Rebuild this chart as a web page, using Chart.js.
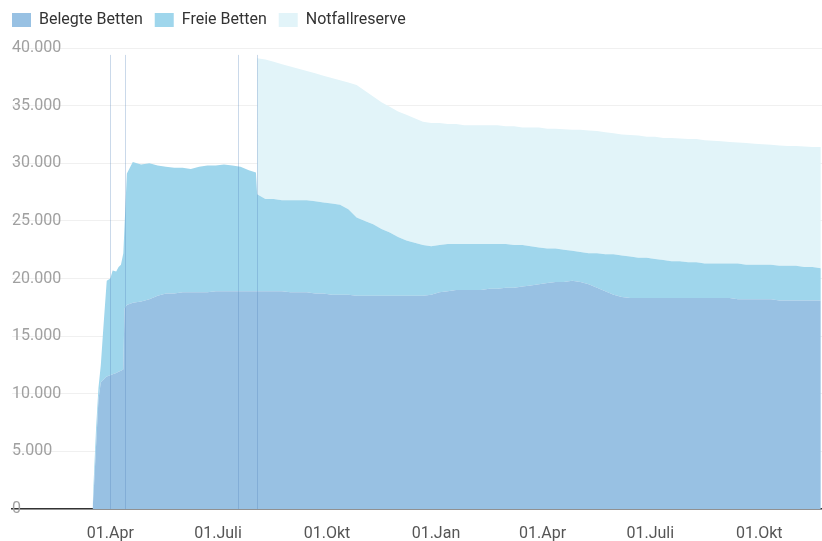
<!DOCTYPE html>
<html>
<head>
<meta charset="utf-8">
<script src="https://cdn.jsdelivr.net/npm/chart.js@4.4.0/dist/chart.umd.min.js"></script>
<style>
  body { margin: 0; background: #fff; }
</style>
</head>
<body>
<canvas id="grafico" width="822" height="541"></canvas>
<script>
// Datum je Messpunkt (ungefähr wöchentlich, dichter an den Sprüngen)
const datum = [
  '2020-03-17', '2020-03-18', '2020-03-20', '2020-03-22', '2020-03-24', '2020-03-26', '2020-03-29',
  '2020-04-01', '2020-04-03', '2020-04-06', '2020-04-08', '2020-04-10', '2020-04-12', '2020-04-13',
  '2020-04-15', '2020-04-20', '2020-04-27', '2020-05-04', '2020-05-11', '2020-05-18', '2020-05-25',
  '2020-06-01', '2020-06-08', '2020-06-15', '2020-06-22', '2020-06-29', '2020-07-06', '2020-07-13',
  '2020-07-20', '2020-07-27', '2020-08-02', '2020-08-03', '2020-08-10', '2020-08-17', '2020-08-24',
  '2020-08-31', '2020-09-07', '2020-09-14', '2020-09-21', '2020-09-28', '2020-10-05', '2020-10-12',
  '2020-10-19', '2020-10-26', '2020-11-02', '2020-11-09', '2020-11-16', '2020-11-23', '2020-11-30',
  '2020-12-07', '2020-12-14', '2020-12-21', '2020-12-28', '2021-01-04', '2021-01-11', '2021-01-18',
  '2021-01-25', '2021-02-01', '2021-02-08', '2021-02-15', '2021-02-22', '2021-03-01', '2021-03-08',
  '2021-03-15', '2021-03-22', '2021-03-29', '2021-04-05', '2021-04-12', '2021-04-19', '2021-04-26',
  '2021-05-03', '2021-05-10', '2021-05-17', '2021-05-24', '2021-05-31', '2021-06-07', '2021-06-14',
  '2021-06-21', '2021-06-28', '2021-07-05', '2021-07-12', '2021-07-19', '2021-07-26', '2021-08-02',
  '2021-08-09', '2021-08-16', '2021-08-23', '2021-08-30', '2021-09-06', '2021-09-13', '2021-09-20',
  '2021-09-27', '2021-10-04', '2021-10-11', '2021-10-18', '2021-10-25', '2021-11-01', '2021-11-08',
  '2021-11-15', '2021-11-22'
];

const belegteBetten = [
  0, 1500, 5500, 9500, 11000, 11200, 11500,
  11600, 11700, 11800, 11900, 12000, 12100, 17400,
  17700, 17900, 18000, 18200, 18500, 18700, 18700,
  18800, 18800, 18800, 18800, 18900, 18900, 18900,
  18900, 18900, 18900, 18900, 18900, 18900, 18900,
  18800, 18800, 18800, 18700, 18700, 18600, 18600,
  18600, 18500, 18500, 18500, 18500, 18500, 18500,
  18500, 18500, 18500, 18600, 18800, 18900, 19000,
  19000, 19000, 19000, 19100, 19100, 19200, 19200,
  19300, 19400, 19500, 19600, 19700, 19700, 19800,
  19700, 19500, 19200, 18900, 18600, 18400, 18300,
  18300, 18300, 18300, 18300, 18300, 18300, 18300,
  18300, 18300, 18300, 18300, 18300, 18200, 18200,
  18200, 18200, 18200, 18100, 18100, 18100, 18100,
  18100, 18100
];

const freieBetten = [
  0, 1000, 1500, 1000, 1500, 4300, 8300,
  8400, 9000, 8800, 9100, 9200, 10100, 7100,
  11400, 12200, 11900, 11800, 11300, 11000, 10900,
  10800, 10700, 10900, 11000, 10900, 11000, 10900,
  10800, 10500, 10300, 8400, 8000, 8000, 7900,
  8000, 8000, 8000, 8000, 7900, 7900, 7800,
  7400, 6800, 6500, 6200, 5800, 5500, 5100,
  4800, 4600, 4400, 4200, 4100, 4100, 4000,
  4000, 4000, 4000, 3900, 3900, 3800, 3700,
  3600, 3400, 3200, 3000, 2900, 2800, 2600,
  2600, 2700, 3000, 3200, 3500, 3600, 3600,
  3500, 3500, 3400, 3300, 3200, 3200, 3100,
  3100, 3000, 3000, 3000, 3000, 3100, 3000,
  3000, 3000, 3000, 3000, 3000, 3000, 2900,
  2900, 2800
];

const notfallreserve = [
  null, null, null, null, null, null, null,
  null, null, null, null, null, null, null,
  null, null, null, null, null, null, null,
  null, null, null, null, null, null, null,
  null, null, null, 11800, 12100, 11900, 11800,
  11600, 11400, 11200, 11100, 11000, 10900, 10800,
  11000, 11500, 11300, 11100, 11000, 10900, 10900,
  10900, 10800, 10700, 10700, 10600, 10400, 10400,
  10300, 10300, 10300, 10300, 10300, 10200, 10300,
  10200, 10300, 10400, 10400, 10400, 10450, 10500,
  10600, 10650, 10600, 10600, 10500, 10500, 10550,
  10600, 10500, 10600, 10600, 10700, 10650, 10700,
  10700, 10700, 10650, 10600, 10550, 10500, 10550,
  10500, 10450, 10400, 10450, 10400, 10400, 10450,
  10400, 10500
];

// Achsenbeschriftung
const tickDatum = ['2020-04-01', '2020-07-01', '2020-10-01', '2021-01-01', '2021-04-01', '2021-07-01', '2021-10-01'];
const tickText = ['01.Apr', '01.Juli', '01.Okt', '01.Jan', '01.Apr', '01.Juli', '01.Okt'];
const xVon = '2020-01-09';
const xBis = '2021-11-23';

// senkrechte Markierungen
const markierungen = ['2020-04-01', '2020-04-13', '2020-07-18', '2020-08-03'];

function tag(s) {
  const [j, m, d] = s.split('-').map(Number);
  return (Date.UTC(j, m - 1, d) - Date.UTC(2020, 2, 1)) / 86400000;
}

function punkte(werte) {
  return datum.map((d, i) => ({ x: tag(d), y: werte[i] }));
}

function tausender(v) {
  return String(v).replace(/\B(?=(\d{3})+(?!\d))/g, '.');
}

const linienPlugin = {
  id: 'markierungen',
  afterDatasetsDraw(chart) {
    const { ctx, scales: { x, y } } = chart;
    ctx.save();
    ctx.strokeStyle = 'rgba(80, 130, 185, 0.3)';
    ctx.lineWidth = 1;
    markierungen.forEach(d => {
      const px = Math.round(x.getPixelForValue(tag(d))) + 0.5;
      ctx.beginPath();
      ctx.moveTo(px, y.getPixelForValue(39400));
      ctx.lineTo(px, y.getPixelForValue(0));
      ctx.stroke();
    });
    ctx.restore();
  }
};

// etwas Abstand unter der Legende
const legendenAbstand = {
  id: 'legendenAbstand',
  beforeInit(chart) {
    const fit = chart.legend.fit;
    chart.legend.fit = function () {
      fit.bind(chart.legend)();
      this.height += 10;
    };
  }
};

Chart.defaults.font.family = 'Roboto';

new Chart(document.getElementById('grafico'), {
  type: 'line',
  data: {
    datasets: [{
      label: 'Belegte Betten',
      data: punkte(belegteBetten),
      backgroundColor: '#98c1e3',
      borderWidth: 0,
      fill: 'origin'
    }, {
      label: 'Freie Betten',
      data: punkte(freieBetten),
      backgroundColor: '#9fd6ec',
      borderWidth: 0,
      fill: '-1'
    }, {
      label: 'Notfallreserve',
      data: punkte(notfallreserve),
      backgroundColor: '#e2f4f9',
      borderWidth: 0,
      fill: '-1'
    }]
  },
  options: {
    responsive: false,
    animation: false,
    elements: {
      point: { radius: 0 },
      line: { tension: 0 }
    },
    layout: {
      padding: { top: 0, right: 0, bottom: 0, left: 0 }
    },
    plugins: {
      legend: {
        position: 'top',
        align: 'start',
        labels: {
          boxWidth: 19,
          boxHeight: 14,
          padding: 12,
          color: '#333',
          font: { size: 16 }
        }
      },
      tooltip: { enabled: false }
    },
    scales: {
      x: {
        type: 'linear',
        min: tag(xVon),
        max: tag(xBis),
        grid: { display: false, drawTicks: false },
        border: { color: '#333', width: 1.5 },
        afterBuildTicks: axis => {
          axis.ticks = tickDatum.map(d => ({ value: tag(d) }));
        },
        afterFit: axis => { axis.height = 32; },
        ticks: {
          autoSkip: false,
          maxRotation: 0,
          padding: 15,
          color: '#555',
          font: { size: 16 },
          callback: (v, i) => tickText[i]
        }
      },
      y: {
        stacked: true,
        min: 0,
        max: 40000,
        z: 1,
        afterFit: axis => { axis.width = 12; },
        grid: { color: 'rgba(0, 0, 0, 0.06)', drawTicks: false },
        border: { display: false },
        ticks: {
          mirror: true,
          padding: 0,
          stepSize: 5000,
          color: '#a0a0a0',
          font: { size: 16 },
          callback: v => tausender(v)
        }
      }
    }
  },
  plugins: [linienPlugin, legendenAbstand]
});
</script>
</body>
</html>
